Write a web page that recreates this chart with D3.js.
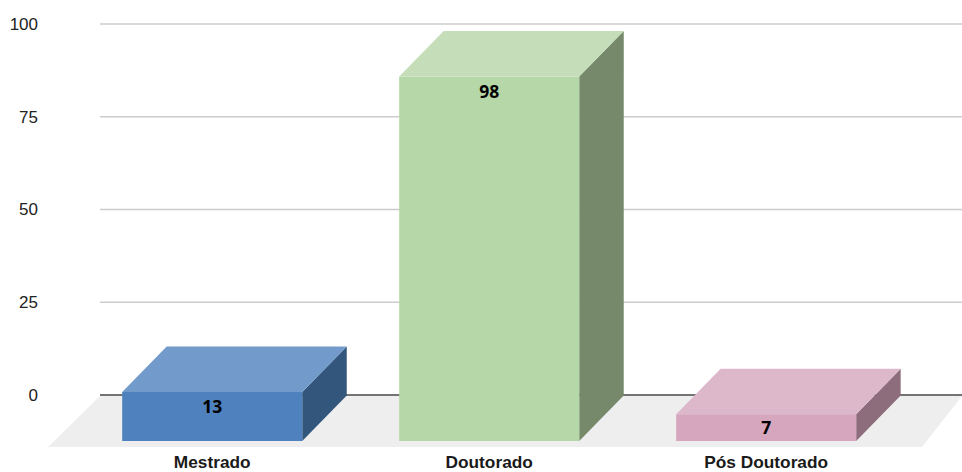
<!DOCTYPE html>
<html>
<head>
<meta charset="utf-8">
<script src="https://cdn.jsdelivr.net/npm/d3@7/dist/d3.min.js"></script>
<style>
html,body{margin:0;padding:0;background:#fff;}
svg{display:block;}
</style>
</head>
<body>
<svg id="chart" width="962" height="472"></svg>
<script>
const categories = ["Mestrado", "Doutorado", "Pós Doutorado"];
const values = [13, 98, 7];
const yTicks = [0, 25, 50, 75, 100];
const frontColors = ["#4e81bd", "#b6d7a8", "#d5a6bd"];
const topColors = ["#729bcb", "#c5deb9", "#ddb7ca"];
const sideColors = ["#33567d", "#76896b", "#8d6d7c"];

const depthX = 44.5, depthY = 45.5;
const svg = d3.select("#chart");
const y = d3.scaleLinear().domain([0, 100]).range([395, 24]);
const x = d3.scaleBand().domain(categories).range([122.2, 856.2]).paddingInner(0.35).paddingOuter(0);
const pts = a => a.map(p => p.join(",")).join(" ");

// floor
svg.append("polygon")
  .attr("points", pts([[100, y(0) + 1], [962, y(0) + 1], [922, 447], [48, 447]]))
  .attr("fill", "#eeeeee");

// gridlines
svg.append("g").selectAll("line").data(yTicks).join("line")
  .attr("x1", 100).attr("x2", 962)
  .attr("y1", d => y(d)).attr("y2", d => y(d))
  .attr("stroke", d => d === 0 ? "#444444" : "#cccccc")
  .attr("stroke-width", 1.3);

// y tick labels
svg.append("g").selectAll("text").data(yTicks).join("text")
  .attr("x", 38).attr("y", d => y(d))
  .attr("dy", "0.35em")
  .attr("text-anchor", "end")
  .attr("font-family", "'Liberation Sans', Arial, sans-serif")
  .attr("font-size", 17)
  .attr("fill", "#222222")
  .text(d => d);

// bars
const bars = svg.append("g").selectAll("g").data(categories).join("g");
bars.each(function (c, i) {
  const g = d3.select(this);
  const l = x(c), r = l + x.bandwidth();
  const base = y(0) + depthY + 0.5;
  const top = y(values[i]) + depthY - 0.3;
  g.append("polygon")
    .attr("points", pts([[r, top], [r + depthX, top - depthY], [r + depthX, base - depthY], [r, base]]))
    .attr("fill", sideColors[i]);
  g.append("polygon")
    .attr("points", pts([[l, top], [r, top], [r + depthX, top - depthY], [l + depthX, top - depthY]]))
    .attr("fill", topColors[i]);
  g.append("rect")
    .attr("x", l).attr("y", top)
    .attr("width", x.bandwidth()).attr("height", base - top)
    .attr("fill", frontColors[i]);
  g.append("text")
    .attr("x", (l + r) / 2)
    .attr("y", Math.min(top + 21.5, base - 7.5))
    .attr("text-anchor", "middle")
    .attr("font-family", "'Noto Sans', sans-serif")
    .attr("font-weight", 700)
    .attr("font-size", 17.5)
    .attr("fill", "#000000")
    .text(values[i]);
});

// category labels
svg.append("g").selectAll("text").data(categories).join("text")
  .attr("x", d => x(d) + x.bandwidth() / 2)
  .attr("y", 468.2)
  .attr("text-anchor", "middle")
  .attr("font-family", "'Liberation Sans', Arial, sans-serif")
  .attr("font-weight", 700)
  .attr("font-size", 17.3)
  .attr("fill", "#1a1a1a")
  .text(d => d);
</script>
</body>
</html>
